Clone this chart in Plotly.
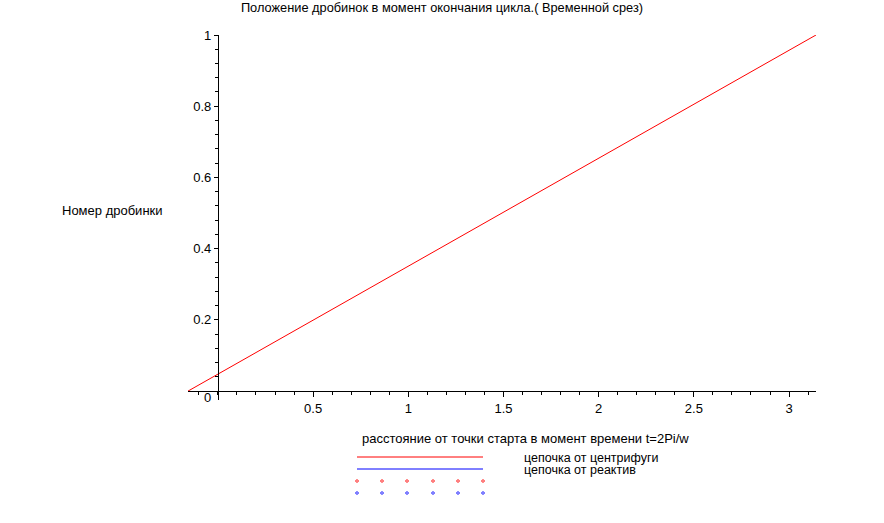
import math
import plotly.graph_objects as go

# ---- data ----
title_text = "Положение дробинок в момент окончания цикла.( Временной срез)"
x_label = "расстояние от точки старта в момент времени t=2Pi/w"
y_label = "Номер дробинки"
series_names = ["цепочка от центрифуги", "цепочка от реактив"]
series_colors = ["#ff0000", "#0000ff"]

centrifuge_x = [-0.157, 3.1416]
centrifuge_y = [0.0, 1.0]

x_tick_vals = [0.5, 1, 1.5, 2, 2.5, 3]
x_tick_text = ["0.5", "1", "1.5", "2", "2.5", "3"]
y_tick_vals = [0.2, 0.4, 0.6, 0.8, 1.0]
y_tick_text = ["0.2", "0.4", "0.6", "0.8", "1"]

# ---- layout geometry (pixels) ----
W, H = 884, 523
L, R, T, B = 188, 816, 35, 400
XMIN, XMAX = -0.157, math.pi
YMIN, YMAX = -0.025, 1.0


def px(xp):
    return (xp - L) / (R - L)


def py(yp):
    return (B - yp) / (B - T)


FONT = dict(family="Liberation Sans, Arial, sans-serif", size=13, color="black")
LEG_FONT = dict(family="Liberation Sans, Arial, sans-serif", size=12.5, color="black")
TITLE_FONT = dict(family="Liberation Sans, Arial, sans-serif", size=12.8, color="black")

fig = go.Figure()
fig.add_trace(go.Scatter(
    x=centrifuge_x, y=centrifuge_y, mode="lines",
    line=dict(color=series_colors[0], width=1),
    showlegend=False, hoverinfo="skip",
))
fig.add_trace(go.Scatter(
    x=[centrifuge_x[-1]], y=[centrifuge_y[-1]], mode="markers",
    marker=dict(symbol="cross-thin", size=5, line=dict(color=series_colors[0], width=1)),
    showlegend=False, hoverinfo="skip", cliponaxis=False,
))

shapes = []
# legend line samples
for col, yy in zip(series_colors, [457, 469]):
    shapes.append(dict(type="line", xref="paper", yref="paper",
                       x0=px(357), x1=px(483), y0=py(yy), y1=py(yy),
                       line=dict(color=col, width=1)))
# legend point samples (small diamonds)
leg_dot_x = [357, 382, 407, 433, 458, 483]
dx = 1.5 / (R - L)
dy = 1.5 / (B - T)
for col, yy in zip(series_colors, [481, 493]):
    for xx in leg_dot_x:
        cx, cy = px(xx), py(yy)
        path = (f"M {cx - dx},{cy} L {cx},{cy + dy} L {cx + dx},{cy} "
                f"L {cx},{cy - dy} Z")
        shapes.append(dict(type="path", xref="paper", yref="paper", path=path,
                           line=dict(color=col, width=1)))

annotations = [
    dict(text=y_label, xref="paper", yref="paper", x=px(112), y=py(210),
         xanchor="center", yanchor="middle", showarrow=False, font=FONT),
    dict(text=x_label, xref="paper", yref="paper", x=px(525), y=py(438),
         xanchor="center", yanchor="middle", showarrow=False, font=FONT),
    dict(text=series_names[0], xref="paper", yref="paper", x=px(522), y=py(458),
         xanchor="left", yanchor="middle", showarrow=False, font=LEG_FONT),
    dict(text=series_names[1], xref="paper", yref="paper", x=px(522), y=py(470),
         xanchor="left", yanchor="middle", showarrow=False, font=LEG_FONT),
    dict(text="0", xref="paper", yref="paper", x=px(207), y=py(397),
         xanchor="center", yanchor="middle", showarrow=False, font=FONT),
]

fig.update_layout(
    width=W, height=H, autosize=False,
    margin=dict(l=L, r=W - R, t=T, b=H - B, pad=0),
    paper_bgcolor="white", plot_bgcolor="white",
    font=FONT,
    title=dict(text=title_text, x=442 / W, xref="container",
               y=1 - 7.5 / H, yref="container",
               xanchor="center", yanchor="middle", font=TITLE_FONT),
    xaxis=dict(
        range=[XMIN, XMAX], anchor="free", position=(0 - YMIN) / (YMAX - YMIN),
        showline=True, linecolor="black", linewidth=1,
        showgrid=False, zeroline=False,
        tickmode="array", tickvals=x_tick_vals, ticktext=x_tick_text,
        ticks="outside", ticklen=5, tickcolor="black", tickwidth=1,
        tickfont=FONT,
        minor=dict(tickmode="linear", tick0=0, dtick=0.1, ticks="outside",
                   ticklen=3, tickcolor="black", showgrid=False),
    ),
    yaxis=dict(
        range=[YMIN, YMAX], anchor="free", position=(0 - XMIN) / (XMAX - XMIN),
        showline=True, linecolor="black", linewidth=1,
        showgrid=False, zeroline=False,
        tickmode="array", tickvals=y_tick_vals, ticktext=y_tick_text,
        ticks="outside", ticklen=4, tickcolor="black", tickwidth=1,
        tickfont=FONT,
        minor=dict(tickmode="linear", tick0=0, dtick=0.04, ticks="outside",
                   ticklen=3, tickcolor="black", showgrid=False),
    ),
    shapes=shapes,
    annotations=annotations,
    showlegend=False,
)

fig.write_html(
    "out.html",
    config={"displayModeBar": False},
    post_script="document.body.style.margin='0';document.body.style.overflow='hidden';",
)
